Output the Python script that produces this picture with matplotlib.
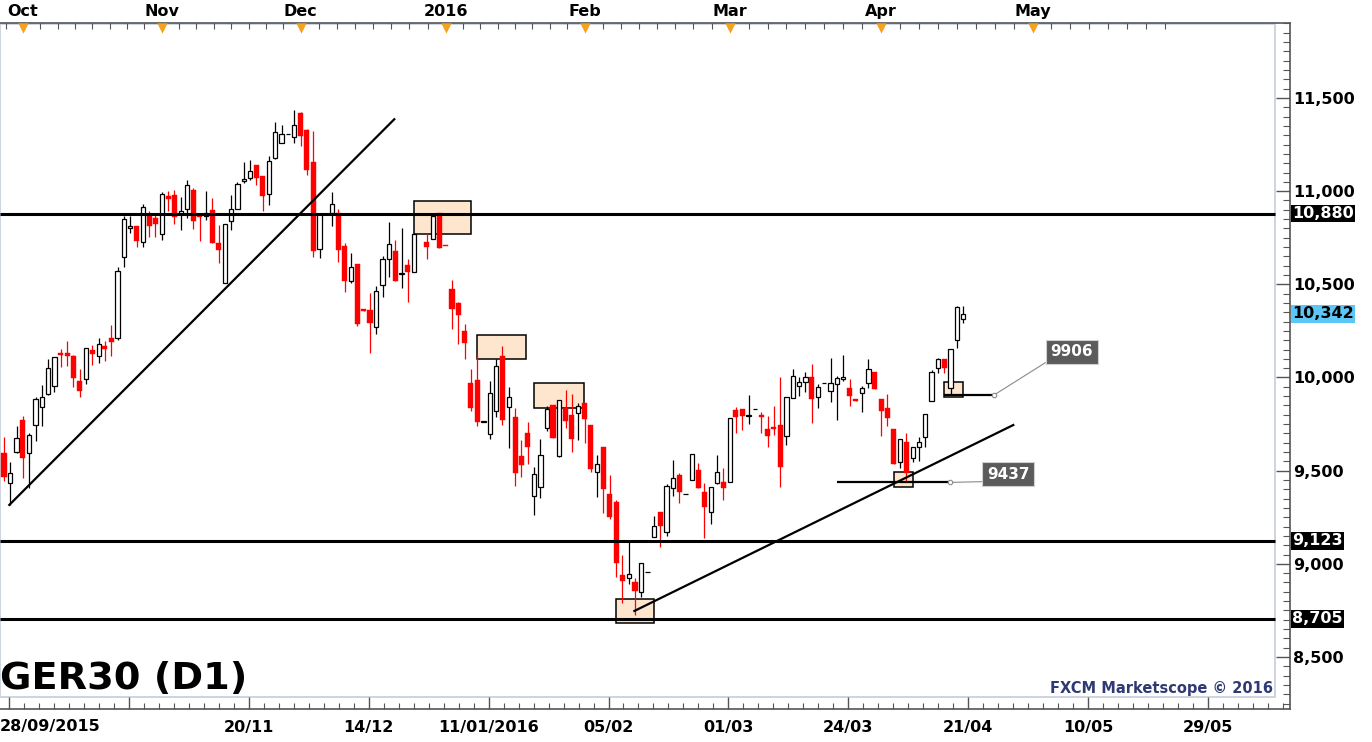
import numpy as np
import matplotlib.pyplot as plt
from matplotlib.patches import Rectangle
from matplotlib.ticker import FixedLocator, MultipleLocator, FuncFormatter
from matplotlib.transforms import blended_transform_factory

nan = np.nan

# daily GER30 candles, one slot per weekday from 28/09/2015 (slot 66 has no bar)
opens = [9593, 9432, 9602, 9772, 9593, 9743, 9840, 9910, 9953, 10131,
         10131, 10115, 9981, 9990, 10148, 10117, 10171, 10214, 10214, 10645,
         10801, 10813, 10725, 10878, 10856, 10768, 10974, 10980, 10878, 10906,
         11008, 10867, 10869, 10899, 10720, 10505, 10838, 10902, 11056, 11069,
         11140, 11081, 10983, 11180, 11257, 11307, 11289, 11420, 11328, 11157,
         10691, 10876, 10883, 10881, 10705, 10519, 10609, 10361, 10362, 10272,
         10494, 10634, 10678, 10557, 10603, 10568, nan, 10725, 10741, 10881,
         10707, 10475, 10401, 10249, 9968, 9986, 9763, 9695, 9822, 10115,
         9839, 9789, 9580, 9704, 9365, 9410, 9730, 9852, 9580, 9834,
         9798, 9807, 9861, 9745, 9491, 9625, 9374, 9332, 8940, 8922,
         8901, 8847, 8954, 9142, 9276, 9173, 9405, 9477, 9375, 9448,
         9504, 9384, 9276, 9432, 9437, 9441, 9826, 9829, 9795, 9829,
         9799, 9724, 9736, 9745, 9686, 9888, 9954, 9974, 10004, 9894,
         9969, 9928, 9965, 9990, 9942, 9877, 9915, 9969, 10030, 9885,
         9838, 9724, 9548, 9652, 9566, 9629, 9682, 9876, 10049, 10097,
         9942, 10201, 10314]
highs = [9682, 9545, 9740, 9793, 9700, 9894, 9960, 10097, 10112, 10151,
         10196, 10121, 10044, 10156, 10173, 10212, 10196, 10282, 10593, 10867,
         10867, 10813, 10931, 10895, 10881, 10997, 11001, 11006, 10970, 11060,
         11017, 10878, 11003, 10965, 10818, 10822, 10978, 11049, 11157, 11167,
         11140, 11081, 11189, 11371, 11357, 11307, 11436, 11425, 11334, 11323,
         10876, 10876, 10995, 10904, 10720, 10666, 10609, 10361, 10455, 10491,
         10652, 10834, 10738, 10800, 10636, 10768, nan, 10773, 10881, 10881,
         10707, 10523, 10407, 10287, 10045, 10124, 9763, 9981, 10097, 10169,
         9950, 9834, 9664, 9763, 9521, 9670, 9847, 9852, 9879, 9933,
         9911, 9861, 9861, 9745, 9584, 9625, 9476, 9340, 9047, 9128,
         8922, 9003, 8954, 9257, 9276, 9428, 9557, 9486, 9375, 9588,
         9539, 9432, 9411, 9584, 9516, 9781, 9840, 9829, 9906, 9829,
         9817, 9793, 9847, 10004, 9897, 10044, 10005, 10031, 10072, 9963,
         9969, 10103, 10008, 10119, 9990, 9877, 9954, 10097, 10030, 9885,
         9911, 9724, 9668, 9700, 9629, 9679, 9802, 10040, 10106, 10097,
         10151, 10384, 10384]
lows = [9446, 9316, 9593, 9462, 9405, 9661, 9741, 9904, 9924, 10058,
        10064, 9951, 9897, 9965, 10067, 10080, 10090, 10115, 10201, 10595,
        10774, 10699, 10702, 10752, 10756, 10740, 10895, 10824, 10792, 10854,
        10797, 10733, 10845, 10724, 10616, 10505, 10793, 10902, 11046, 11060,
        11033, 10895, 10926, 11174, 11257, 11307, 11260, 11244, 11087, 10648,
        10643, 10876, 10815, 10621, 10460, 10509, 10278, 10359, 10133, 10233,
        10434, 10541, 10519, 10482, 10407, 10568, nan, 10636, 10741, 10696,
        10704, 10260, 10180, 10099, 9822, 9741, 9763, 9670, 9789, 9745,
        9623, 9417, 9467, 9535, 9262, 9351, 9713, 9677, 9575, 9727,
        9602, 9664, 9650, 9494, 9360, 9274, 9238, 8931, 8788, 8890,
        8725, 8824, 8954, 9142, 9092, 9151, 9366, 9328, 9375, 9448,
        9409, 9137, 9212, 9427, 9343, 9441, 9704, 9718, 9750, 9829,
        9700, 9629, 9691, 9410, 9638, 9888, 9901, 9924, 9758, 9835,
        9969, 9870, 9772, 9983, 9849, 9875, 9817, 9942, 9936, 9688,
        9741, 9534, 9513, 9445, 9548, 9554, 9625, 9876, 10026, 10022,
        9906, 10160, 10291]
closes = [9468, 9489, 9673, 9566, 9690, 9883, 9894, 10049, 10108, 10121,
          10117, 9999, 9928, 10156, 10126, 10178, 10153, 10191, 10570, 10849,
          10813, 10734, 10913, 10815, 10824, 10983, 10960, 10863, 10895, 11031,
          10842, 10860, 10885, 10724, 10684, 10822, 10902, 11037, 11065, 11108,
          11069, 10974, 11160, 11316, 11305, 11307, 11353, 11298, 11114, 10679,
          10876, 10876, 10929, 10684, 10519, 10591, 10287, 10359, 10294, 10464,
          10634, 10714, 10519, 10562, 10568, 10768, nan, 10702, 10866, 10696,
          10704, 10367, 10335, 10187, 9838, 9763, 9763, 9915, 10061, 9772,
          9893, 9489, 9530, 9628, 9480, 9584, 9831, 9677, 9879, 9768,
          9670, 9847, 9775, 9507, 9534, 9399, 9253, 9006, 8910, 8944,
          8856, 9003, 8954, 9205, 9205, 9418, 9459, 9387, 9375, 9588,
          9409, 9307, 9411, 9491, 9409, 9781, 9790, 9795, 9799, 9829,
          9786, 9686, 9725, 9521, 9897, 10010, 9978, 10004, 9886, 9951,
          9969, 9969, 9999, 10001, 9902, 9875, 9942, 10044, 9936, 9822,
          9781, 9534, 9668, 9486, 9629, 9656, 9802, 10031, 10097, 10049,
          10151, 10377, 10342]

# axis labels
month_pos = [3, 25, 47, 70, 92, 115, 139, 163]
month_labels = ['Oct', 'Nov', 'Dec', '2016', 'Feb', 'Mar', 'Apr', 'May']
date_pos = [0.8, 19.8, 38.8, 57.8, 76.8, 95.8, 114.8, 133.8, 152.8, 171.8, 190.8]
date_labels = ['', '', '20/11', '14/12', '11/01/2016', '05/02',
               '01/03', '24/03', '21/04', '10/05', '29/05']

# drawn levels and studies
levels = [10880, 9123, 8705]
last_price = 10342
trend_x = [[0.84, 61.85], [99.9, 159.95]]
trend_y = [[9316, 11386], [8747, 9745]]
box_x0 = [65.0, 75.0, 84.0, 97.0, 141.1, 149.0]
box_x1 = [74.0, 82.8, 91.9, 103.0, 144.0, 151.9]
box_top = [10947, 10226, 9969, 8810, 9491, 9977]
box_bot = [10769, 10098, 9835, 8681, 9411, 9894]
marks = [9906, 9437]
mark_x0 = [149.0, 132.0]
mark_x1 = [156.9, 149.9]

plt.rcParams['font.family'] = 'DejaVu Sans'
fs = 11.5
fig = plt.figure(figsize=(13.72, 7.42), dpi=100)
ax = fig.add_axes([0, 33 / 742, 1290 / 1372, 686 / 742])
ax.set_xlim(-0.634, 203.8)
ax.set_ylim(8220.8, 11902.6)
x_edge = 201.4  # right edge of the inner frame

# inner light frame
ax.add_patch(Rectangle((0, 12 / 686), 1275 / 1290, 673 / 686, transform=ax.transAxes,
                       fill=False, ec='#c9d1dc', lw=1.3, zorder=0))

# candles
x = np.arange(len(opens))
o, h, l, c = (np.array(v, dtype=float) for v in (opens, highs, lows, closes))
ok = ~np.isnan(o)
up = ok & (c >= o)
dn = ok & (c < o)
lo_body = np.minimum(o, c)
ax.vlines(x[up], l[up], h[up], color='black', lw=0.9, zorder=3)
ax.vlines(x[dn], l[dn], h[dn], color='red', lw=0.9, zorder=3)
ax.bar(x[up], np.maximum(np.abs(c - o), 1.0)[up], bottom=lo_body[up], width=0.68,
       facecolor='white', edgecolor='black', lw=0.9, zorder=4)
ax.bar(x[dn], np.maximum(np.abs(c - o), 8.0)[dn], bottom=lo_body[dn], width=0.8,
       facecolor='red', edgecolor='red', lw=0.3, zorder=4)

# boxes
for x0, x1, t, b in zip(box_x0, box_x1, box_top, box_bot):
    ax.add_patch(Rectangle((x0, b), x1 - x0, t - b, fc='#fee5cd', ec='black', lw=1.1, zorder=2))

# horizontal levels and trendlines
ax.hlines(levels, -0.634, x_edge, color='black', lw=2.2, zorder=5)
for tx, ty in zip(trend_x, trend_y):
    ax.plot(tx, ty, color='black', lw=1.6, zorder=5)

# marked lows with callouts
offsets = [(56, 31), (42, 6)]
for m, x0, x1, off in zip(marks, mark_x0, mark_x1, offsets):
    ax.hlines(m, x0, x1, color='black', lw=1.6, zorder=5)
    ax.annotate(str(m), xy=(x1, m), xytext=off, textcoords='offset points',
                ha='center', va='center', fontsize=11, fontweight='bold', color='white',
                bbox=dict(boxstyle='square,pad=0.3', fc='#5b5b5b', ec='#d0d0d0', lw=0.8),
                arrowprops=dict(arrowstyle='-', color='#8a8a8a', lw=0.8,
                                shrinkA=0, shrinkB=0, relpos=(0, 0)),
                zorder=6)
    ax.plot(x1, m, 'o', ms=3.2, mfc='white', mec='#8a8a8a', mew=0.8, zorder=7)

# right price axis
ax.yaxis.tick_right()
ax.yaxis.set_major_locator(MultipleLocator(500))
ax.yaxis.set_minor_locator(MultipleLocator(50))
ax.yaxis.set_major_formatter(FuncFormatter(lambda v, p: f'{v:,.0f}'))
ax.tick_params(axis='y', which='major', direction='in', length=10, width=1,
               color='#555555', pad=2, labelsize=fs)
ax.tick_params(axis='y', which='minor', direction='in', length=5, width=0.8, color='#555555')
for t in ax.get_yticklabels():
    t.set_fontweight('bold')

tr = blended_transform_factory(ax.transAxes, ax.transData)
for lv in levels:
    ax.text(1 + 2 / 1290, lv, f'{lv:,}', transform=tr, ha='left', va='center',
            fontsize=fs, fontweight='bold', color='white', clip_on=False, zorder=10,
            bbox=dict(boxstyle='square,pad=0.08', fc='black', ec='none'))
ax.text(1 + 2 / 1290, last_price, f'{last_price:,}', transform=tr, ha='left', va='center',
        fontsize=fs, fontweight='bold', color='black', clip_on=False, zorder=10,
        bbox=dict(boxstyle='square,pad=0.08', fc='#5cc6f7', ec='none'))

# bottom date axis
ax.set_xticks(date_pos, labels=date_labels)
ax.xaxis.set_minor_locator(MultipleLocator(19 / 8, offset=0.8))
ax.tick_params(axis='x', which='major', direction='in', length=8.5, width=1,
               color='#555555', pad=8, labelsize=fs)
ax.tick_params(axis='x', which='minor', direction='in', length=4, width=0.8, color='#555555')
for t in ax.get_xticklabels():
    t.set_fontweight('bold')
fig.text(0.0, 1 - 727 / 742, '28/09/2015', ha='left', va='center',
         fontsize=fs, fontweight='bold')

# top month axis
top = ax.secondary_xaxis('top')
top.set_xticks(month_pos, labels=month_labels)
top.xaxis.set_minor_locator(FixedLocator(
    [a + (b - a) * k / 8 for a, b in zip([-19] + month_pos, month_pos + [187]) for k in range(1, 8)]))
top.tick_params(axis='x', which='major', direction='in', length=4, width=0.8,
                color='#555555', pad=3, labelsize=fs)
top.tick_params(axis='x', which='minor', direction='in', length=4, width=0.8, color='#555555')
for t in top.get_xticklabels():
    t.set_fontweight('bold')
top.spines['top'].set_color('#555555')
top.spines['top'].set_linewidth(1.2)
ax.scatter(month_pos, [0.9925] * len(month_pos), marker='v', s=55, color='#f5a31f',
           transform=blended_transform_factory(ax.transData, ax.transAxes),
           clip_on=False, zorder=8, linewidths=0)

for s in ['left', 'top']:
    ax.spines[s].set_visible(False)
for s in ['right', 'bottom']:
    ax.spines[s].set_color('#555555')
    ax.spines[s].set_linewidth(1.2)

fig.text(0.0, 1 - 688.5 / 742, 'GER30 (D1)', ha='left', va='baseline',
         fontsize=27.5, fontweight='bold')
ax.text(1273 / 1290, 21 / 686, 'FXCM Marketscope \u00a9 2016', transform=ax.transAxes,
        ha='right', va='center', fontsize=10.5, fontweight='bold', color='#2f3a74')

fig.savefig('out.png', dpi=100)
